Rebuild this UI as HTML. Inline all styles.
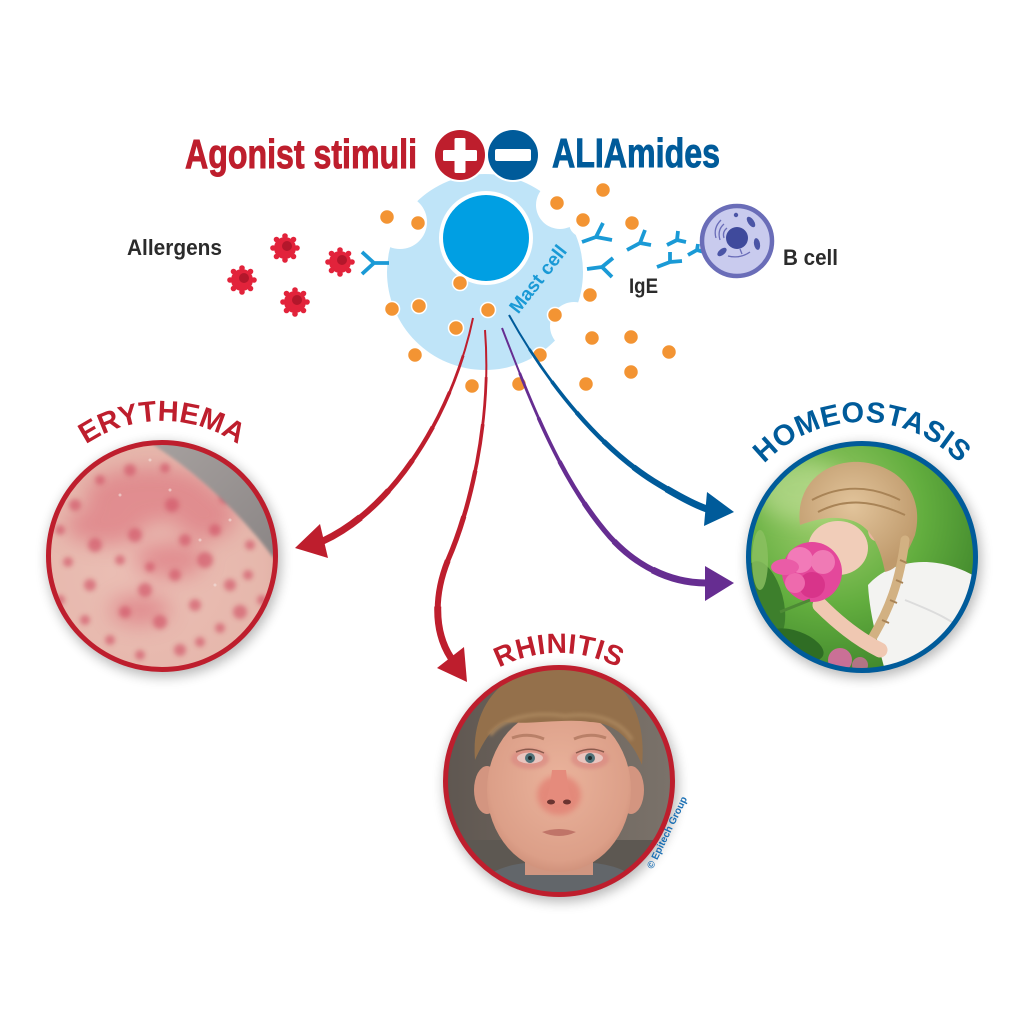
<!DOCTYPE html>
<html><head><meta charset="utf-8"><style>
html,body{margin:0;padding:0;background:#fff;}
svg{display:block;}
text{font-family:"Liberation Sans",Arial,sans-serif;font-weight:bold;}
</style></head><body>
<svg width="1024" height="1024" viewBox="0 0 1024 1024" xmlns="http://www.w3.org/2000/svg">
<defs>
 <filter id="b1" x="-50%" y="-50%" width="200%" height="200%"><feGaussianBlur stdDeviation="1.5"/></filter>
 <filter id="b2" x="-50%" y="-50%" width="200%" height="200%"><feGaussianBlur stdDeviation="2.5"/></filter>
 <filter id="b3" x="-50%" y="-50%" width="200%" height="200%"><feGaussianBlur stdDeviation="3"/></filter>
 <filter id="b6" x="-50%" y="-50%" width="200%" height="200%"><feGaussianBlur stdDeviation="6"/></filter>
 <filter id="b10" x="-50%" y="-50%" width="200%" height="200%"><feGaussianBlur stdDeviation="10"/></filter>
 <clipPath id="c1"><circle cx="162" cy="556" r="113"/></clipPath>
 <clipPath id="c2"><circle cx="559" cy="781" r="113"/></clipPath>
 <clipPath id="c3"><circle cx="862" cy="557" r="113"/></clipPath>
 <radialGradient id="skin1" cx="0.4" cy="0.55" r="0.7">
  <stop offset="0" stop-color="#ebbfb5"/><stop offset="0.7" stop-color="#e6b7ac"/><stop offset="1" stop-color="#d9a59b"/>
 </radialGradient>
 <linearGradient id="gray1" x1="0" y1="0" x2="1" y2="1">
  <stop offset="0" stop-color="#aaa4a2"/><stop offset="1" stop-color="#858080"/>
 </linearGradient>
 <linearGradient id="bg2" x1="0" y1="0" x2="1" y2="0">
  <stop offset="0" stop-color="#5e5650"/><stop offset="0.5" stop-color="#6f665e"/><stop offset="1" stop-color="#7b736b"/>
 </linearGradient>
 <radialGradient id="face2" cx="0.5" cy="0.45" r="0.6">
  <stop offset="0" stop-color="#eab39c"/><stop offset="0.8" stop-color="#dc9f88"/><stop offset="1" stop-color="#c98a74"/>
 </radialGradient>
 <radialGradient id="green3" cx="0.35" cy="0.3" r="0.8">
  <stop offset="0" stop-color="#a3d070"/><stop offset="0.5" stop-color="#62ad3e"/><stop offset="1" stop-color="#357a26"/>
 </radialGradient>
 <radialGradient id="hair3" cx="0.45" cy="0.4" r="0.6">
  <stop offset="0" stop-color="#e2c49b"/><stop offset="1" stop-color="#bf9a6c"/>
 </radialGradient>
 <path id="arc1" d="M27,556 A135,135 0 0 1 297,556"/>
 <path id="arc2" d="M431,781 A128,128 0 0 1 687,781"/>
 <path id="arc3" d="M727,557 A135,135 0 0 1 997,557"/>
</defs>

<rect width="1024" height="1024" fill="#fff"/>

<!-- ===== Title ===== -->
<text x="185" y="168" font-size="41" fill="#be1e2d" stroke="#be1e2d" stroke-width="0.9" textLength="232" lengthAdjust="spacingAndGlyphs">Agonist stimuli</text>
<text x="552" y="167" font-size="41" fill="#005b9a" stroke="#005b9a" stroke-width="0.9" textLength="168" lengthAdjust="spacingAndGlyphs">ALIAmides</text>

<!-- ===== Mast cell ===== -->
<circle cx="485" cy="272" r="98" fill="#bfe4f8"/>
<circle cx="400" cy="222" r="27" fill="#fff"/>
<circle cx="560" cy="205" r="24" fill="#fff"/>
<circle cx="583" cy="223" r="14" fill="#fff"/>
<circle cx="574" cy="326" r="24" fill="#fff"/>
<circle cx="486" cy="238" r="47" fill="#fff"/>
<circle cx="486" cy="238" r="43" fill="#009fe3"/>
<text transform="translate(543,283) rotate(-52)" font-size="19" fill="#1a9ad6" text-anchor="middle">Mast cell</text>

<!-- plus / minus -->
<circle cx="460" cy="155" r="27" fill="#fff"/>
<circle cx="513" cy="155" r="27" fill="#fff"/>
<circle cx="460" cy="155" r="25" fill="#be1e2d"/>
<circle cx="513" cy="155" r="25" fill="#005b9a"/>
<rect x="443" y="150" width="34" height="11" rx="1.5" fill="#fff"/>
<rect x="454.5" y="138" width="11" height="35" rx="1.5" fill="#fff"/>
<rect x="495" y="149" width="36" height="12" rx="2" fill="#fff"/>

<!-- ===== Antibodies ===== -->
<g stroke="#1a9ad6" stroke-width="3.8" fill="none" stroke-linecap="butt" stroke-linejoin="round">
 <path d="M389,263 L374,263 L362,252 M374,263 L362,274"/>
 <path d="M582,242 L596,237 L603,223 M596,237 L612,240"/>
 <path d="M587,269 L602,267 L613,258 M602,267 L612,277"/>
 <path d="M627,250 L640,243 L645,230 M640,243 L651,245"/>
 <path d="M667,245 L677,240 L678,231 M677,240 L686,242"/>
 <path d="M657,267 L670,262 L670,252 M670,262 L682,261"/>
 <path d="M688,255 L697,250 L698,244 M697,250 L704,252"/>
</g>

<!-- ===== B cell ===== -->
<circle cx="737" cy="241" r="35" fill="#c9cbee" stroke="#6a6db8" stroke-width="4.5"/>
<circle cx="737" cy="238" r="11" fill="#3f4a9c"/>
<ellipse cx="751" cy="222" rx="3" ry="6" transform="rotate(-35 751 222)" fill="#4b55a6"/>
<ellipse cx="757" cy="244" rx="3" ry="6" transform="rotate(-10 757 244)" fill="#4b55a6"/>
<ellipse cx="722" cy="252" rx="3" ry="5.5" transform="rotate(50 722 252)" fill="#4b55a6"/>
<circle cx="736" cy="215" r="2.2" fill="#4b55a6"/>
<path d="M716,238 Q713,228 721,220 M720,240 Q717,230 724,224 M724,238 Q722,232 727,228" stroke="#6a6db8" stroke-width="1.3" fill="none"/>
<path d="M728,256 Q740,259 750,252" stroke="#6a6db8" stroke-width="1.3" fill="none"/>
<path d="M740,249 L742,254" stroke="#6a6db8" stroke-width="1.3"/>

<!-- ===== Labels ===== -->
<text x="127" y="255" font-size="22" fill="#2b2b2b" textLength="95" lengthAdjust="spacingAndGlyphs">Allergens</text>
<text x="629" y="293" font-size="21" fill="#2b2b2b" textLength="29" lengthAdjust="spacingAndGlyphs">IgE</text>
<text x="783" y="265" font-size="22" fill="#2b2b2b" textLength="55" lengthAdjust="spacingAndGlyphs">B cell</text>

<!-- ===== Allergens ===== -->
<g transform="translate(285,248)">
 <g fill="#e2233b">
  <circle r="11"/>
  <circle cx="0" cy="-12" r="2.8"/><circle cx="8.5" cy="-8.5" r="2.8"/><circle cx="12" cy="0" r="2.8"/><circle cx="8.5" cy="8.5" r="2.8"/>
  <circle cx="0" cy="12" r="2.8"/><circle cx="-8.5" cy="8.5" r="2.8"/><circle cx="-12" cy="0" r="2.8"/><circle cx="-8.5" cy="-8.5" r="2.8"/>
 </g>
 <circle cx="2" cy="-2" r="5" fill="#b3172b"/>
</g>
<g transform="translate(340,262)">
 <g fill="#e2233b">
  <circle r="11"/>
  <circle cx="0" cy="-12" r="2.8"/><circle cx="8.5" cy="-8.5" r="2.8"/><circle cx="12" cy="0" r="2.8"/><circle cx="8.5" cy="8.5" r="2.8"/>
  <circle cx="0" cy="12" r="2.8"/><circle cx="-8.5" cy="8.5" r="2.8"/><circle cx="-12" cy="0" r="2.8"/><circle cx="-8.5" cy="-8.5" r="2.8"/>
 </g>
 <circle cx="2" cy="-2" r="5" fill="#b3172b"/>
</g>
<g transform="translate(242,280)">
 <g fill="#e2233b">
  <circle r="11"/>
  <circle cx="0" cy="-12" r="2.8"/><circle cx="8.5" cy="-8.5" r="2.8"/><circle cx="12" cy="0" r="2.8"/><circle cx="8.5" cy="8.5" r="2.8"/>
  <circle cx="0" cy="12" r="2.8"/><circle cx="-8.5" cy="8.5" r="2.8"/><circle cx="-12" cy="0" r="2.8"/><circle cx="-8.5" cy="-8.5" r="2.8"/>
 </g>
 <circle cx="2" cy="-2" r="5" fill="#b3172b"/>
</g>
<g transform="translate(295,302)">
 <g fill="#e2233b">
  <circle r="11"/>
  <circle cx="0" cy="-12" r="2.8"/><circle cx="8.5" cy="-8.5" r="2.8"/><circle cx="12" cy="0" r="2.8"/><circle cx="8.5" cy="8.5" r="2.8"/>
  <circle cx="0" cy="12" r="2.8"/><circle cx="-8.5" cy="8.5" r="2.8"/><circle cx="-12" cy="0" r="2.8"/><circle cx="-8.5" cy="-8.5" r="2.8"/>
 </g>
 <circle cx="2" cy="-2" r="5" fill="#b3172b"/>
</g>

<!-- ===== Orange granules ===== -->
<g fill="#f39433" stroke="#fff" stroke-width="1.5">
 <circle cx="387" cy="217" r="7.5"/><circle cx="418" cy="223" r="7.5"/><circle cx="557" cy="203" r="7.5"/>
 <circle cx="583" cy="220" r="7.5"/><circle cx="603" cy="190" r="7.5"/><circle cx="632" cy="223" r="7.5"/>
 <circle cx="590" cy="295" r="7.5"/><circle cx="460" cy="283" r="7.5"/><circle cx="392" cy="309" r="7.5"/>
 <circle cx="419" cy="306" r="7.5"/><circle cx="488" cy="310" r="7.5"/><circle cx="456" cy="328" r="7.5"/>
 <circle cx="555" cy="315" r="7.5"/><circle cx="592" cy="338" r="7.5"/><circle cx="540" cy="355" r="7.5"/>
 <circle cx="415" cy="355" r="7.5"/><circle cx="472" cy="386" r="7.5"/><circle cx="519" cy="384" r="7.5"/>
 <circle cx="586" cy="384" r="7.5"/><circle cx="631" cy="337" r="7.5"/><circle cx="669" cy="352" r="7.5"/>
 <circle cx="631" cy="372" r="7.5"/>
</g>

<!-- ===== Arrows (tapered via layered dashes) ===== -->
<g fill="none" stroke-linecap="butt" stroke="#be1e2d">
 <path d="M473,318 C455,405 400,505 323,541" stroke-width="2"/>
 <path d="M473,318 C455,405 400,505 323,541" pathLength="100" stroke-dasharray="0 14 86 0" stroke-width="2.8"/>
 <path d="M473,318 C455,405 400,505 323,541" pathLength="100" stroke-dasharray="0 28 72 0" stroke-width="3.6"/>
 <path d="M473,318 C455,405 400,505 323,541" pathLength="100" stroke-dasharray="0 42 58 0" stroke-width="4.4"/>
 <path d="M473,318 C455,405 400,505 323,541" pathLength="100" stroke-dasharray="0 56 44 0" stroke-width="5.2"/>
 <path d="M473,318 C455,405 400,505 323,541" pathLength="100" stroke-dasharray="0 70 30 0" stroke-width="6"/>
 <path d="M473,318 C455,405 400,505 323,541" pathLength="100" stroke-dasharray="0 84 16 0" stroke-width="7"/>

 <path d="M485,330 C492,420 470,510 448,560 C432,600 436,635 451,658" stroke-width="2"/>
 <path d="M485,330 C492,420 470,510 448,560 C432,600 436,635 451,658" pathLength="100" stroke-dasharray="0 14 86 0" stroke-width="2.8"/>
 <path d="M485,330 C492,420 470,510 448,560 C432,600 436,635 451,658" pathLength="100" stroke-dasharray="0 28 72 0" stroke-width="3.6"/>
 <path d="M485,330 C492,420 470,510 448,560 C432,600 436,635 451,658" pathLength="100" stroke-dasharray="0 42 58 0" stroke-width="4.4"/>
 <path d="M485,330 C492,420 470,510 448,560 C432,600 436,635 451,658" pathLength="100" stroke-dasharray="0 56 44 0" stroke-width="5.2"/>
 <path d="M485,330 C492,420 470,510 448,560 C432,600 436,635 451,658" pathLength="100" stroke-dasharray="0 70 30 0" stroke-width="6"/>
 <path d="M485,330 C492,420 470,510 448,560 C432,600 436,635 451,658" pathLength="100" stroke-dasharray="0 84 16 0" stroke-width="7"/>
</g>
<g fill="none" stroke-linecap="butt" stroke="#662d91">
 <path d="M502,328 C530,400 560,480 610,537 C640,570 675,583 706,583" stroke-width="2"/>
 <path d="M502,328 C530,400 560,480 610,537 C640,570 675,583 706,583" pathLength="100" stroke-dasharray="0 14 86 0" stroke-width="2.8"/>
 <path d="M502,328 C530,400 560,480 610,537 C640,570 675,583 706,583" pathLength="100" stroke-dasharray="0 28 72 0" stroke-width="3.6"/>
 <path d="M502,328 C530,400 560,480 610,537 C640,570 675,583 706,583" pathLength="100" stroke-dasharray="0 42 58 0" stroke-width="4.4"/>
 <path d="M502,328 C530,400 560,480 610,537 C640,570 675,583 706,583" pathLength="100" stroke-dasharray="0 56 44 0" stroke-width="5.2"/>
 <path d="M502,328 C530,400 560,480 610,537 C640,570 675,583 706,583" pathLength="100" stroke-dasharray="0 70 30 0" stroke-width="6"/>
 <path d="M502,328 C530,400 560,480 610,537 C640,570 675,583 706,583" pathLength="100" stroke-dasharray="0 84 16 0" stroke-width="7"/>
</g>
<g fill="none" stroke-linecap="butt" stroke="#005b9a">
 <path d="M509,315 C545,380 600,450 660,485 C680,497 695,505 707,509" stroke-width="2"/>
 <path d="M509,315 C545,380 600,450 660,485 C680,497 695,505 707,509" pathLength="100" stroke-dasharray="0 14 86 0" stroke-width="2.8"/>
 <path d="M509,315 C545,380 600,450 660,485 C680,497 695,505 707,509" pathLength="100" stroke-dasharray="0 28 72 0" stroke-width="3.6"/>
 <path d="M509,315 C545,380 600,450 660,485 C680,497 695,505 707,509" pathLength="100" stroke-dasharray="0 42 58 0" stroke-width="4.4"/>
 <path d="M509,315 C545,380 600,450 660,485 C680,497 695,505 707,509" pathLength="100" stroke-dasharray="0 56 44 0" stroke-width="5.2"/>
 <path d="M509,315 C545,380 600,450 660,485 C680,497 695,505 707,509" pathLength="100" stroke-dasharray="0 70 30 0" stroke-width="6"/>
 <path d="M509,315 C545,380 600,450 660,485 C680,497 695,505 707,509" pathLength="100" stroke-dasharray="0 84 16 0" stroke-width="7"/>
</g>
<polygon points="295,548 320,524 328,558" fill="#be1e2d"/>
<polygon points="467,682 437,668 464,647" fill="#be1e2d"/>
<polygon points="734,583 705,566 705,601" fill="#662d91"/>
<polygon points="734,512 707,492 704,526" fill="#005b9a"/>

<!-- ===== Shadows for photos ===== -->
<circle cx="164" cy="560" r="117" fill="#000" opacity="0.28" filter="url(#b6)"/>
<circle cx="561" cy="785" r="117" fill="#000" opacity="0.28" filter="url(#b6)"/>
<circle cx="864" cy="561" r="117" fill="#000" opacity="0.28" filter="url(#b6)"/>

<!-- ===== ERYTHEMA photo ===== -->
<g clip-path="url(#c1)">
 <rect x="40" y="430" width="250" height="250" fill="url(#skin1)"/>
 <g fill="#d9606f" opacity="0.5" filter="url(#b10)">
  <ellipse cx="150" cy="495" rx="65" ry="28"/>
  <ellipse cx="105" cy="525" rx="40" ry="20"/>
  <ellipse cx="205" cy="515" rx="30" ry="25"/>
  <ellipse cx="170" cy="560" rx="35" ry="18"/>
  <ellipse cx="140" cy="610" rx="30" ry="15"/>
 </g>
 <g fill="#d25467" opacity="0.65" filter="url(#b2)">
  <circle cx="75" cy="505" r="6"/><circle cx="95" cy="545" r="7"/><circle cx="120" cy="560" r="5"/>
  <circle cx="145" cy="590" r="7"/><circle cx="175" cy="575" r="6"/><circle cx="205" cy="560" r="8"/>
  <circle cx="230" cy="585" r="6"/><circle cx="250" cy="545" r="5"/><circle cx="125" cy="612" r="6"/>
  <circle cx="160" cy="622" r="7"/><circle cx="195" cy="605" r="6"/><circle cx="220" cy="628" r="5"/>
  <circle cx="90" cy="585" r="6"/><circle cx="110" cy="640" r="5"/><circle cx="180" cy="650" r="6"/>
  <circle cx="240" cy="612" r="7"/><circle cx="68" cy="562" r="5"/><circle cx="135" cy="535" r="7"/>
  <circle cx="185" cy="540" r="6"/><circle cx="215" cy="530" r="6"/><circle cx="100" cy="480" r="5"/>
  <circle cx="130" cy="470" r="6"/><circle cx="165" cy="468" r="5"/><circle cx="248" cy="575" r="5"/>
  <circle cx="150" cy="567" r="5"/><circle cx="200" cy="642" r="5"/><circle cx="85" cy="620" r="5"/>
  <circle cx="60" cy="530" r="5"/><circle cx="262" cy="600" r="5"/><circle cx="60" cy="600" r="5"/>
  <circle cx="140" cy="655" r="5"/><circle cx="225" cy="498" r="6"/><circle cx="172" cy="505" r="7"/>
 </g>
 <path d="M140,425 L300,425 L300,580 L272,556 C245,520 205,478 152,444 Z" fill="url(#gray1)" filter="url(#b1)"/>
 <g fill="#f4e4e0" opacity="0.6">
  <circle cx="120" cy="495" r="1.5"/><circle cx="170" cy="490" r="1.5"/><circle cx="200" cy="540" r="1.5"/>
  <circle cx="215" cy="585" r="1.5"/><circle cx="150" cy="460" r="1.5"/><circle cx="230" cy="520" r="1.5"/>
 </g>
</g>
<circle cx="162" cy="556" r="113.5" fill="none" stroke="#be1e2d" stroke-width="5"/>
<text font-size="29" fill="#be1e2d" letter-spacing="0"><textPath href="#arc1" startOffset="50%" text-anchor="middle">ERYTHEMA</textPath></text>

<!-- ===== RHINITIS photo ===== -->
<g clip-path="url(#c2)">
 <rect x="440" y="660" width="240" height="240" fill="url(#bg2)"/>
 <rect x="440" y="840" width="240" height="60" fill="#5d5852"/>
 <path d="M470,900 C480,870 510,860 559,862 C610,860 640,870 650,900 Z" fill="#62666a"/>
 <rect x="525" y="830" width="68" height="45" fill="#d09681"/>
 <ellipse cx="487" cy="790" rx="13" ry="24" fill="#d39580"/>
 <ellipse cx="631" cy="790" rx="13" ry="24" fill="#d39580"/>
 <ellipse cx="559" cy="790" rx="72" ry="82" fill="url(#face2)"/>
 <path d="M475,760 C470,700 510,665 560,665 C612,665 648,700 642,765 C630,735 610,722 590,722 C565,718 530,725 505,722 C490,728 482,745 475,760 Z" fill="#94704b"/>
 <path d="M490,735 C505,715 540,712 565,716 C595,712 620,720 632,740" stroke="#a8845c" stroke-width="4" fill="none" filter="url(#b1)"/>
 <ellipse cx="530" cy="759" rx="19" ry="10" fill="#d98480" opacity="0.6" filter="url(#b1)"/>
 <ellipse cx="590" cy="759" rx="19" ry="10" fill="#d98480" opacity="0.6" filter="url(#b1)"/>
 <ellipse cx="530" cy="758" rx="13" ry="5.5" fill="#e9c5bf"/>
 <ellipse cx="590" cy="758" rx="13" ry="5.5" fill="#e9c5bf"/>
 <circle cx="530" cy="758" r="5" fill="#4f7178"/>
 <circle cx="590" cy="758" r="5" fill="#4f7178"/>
 <circle cx="530" cy="758" r="2" fill="#1f2a2c"/>
 <circle cx="590" cy="758" r="2" fill="#1f2a2c"/>
 <path d="M516,752 Q530,746 544,753 M576,753 Q590,746 604,752" stroke="#8a5a4c" stroke-width="1.5" fill="none"/>
 <path d="M512,738 Q528,732 544,739 M574,739 Q590,732 606,738" stroke="#b98068" stroke-width="3" fill="none"/>
 <ellipse cx="559" cy="795" rx="22" ry="20" fill="#e27a6e" opacity="0.7" filter="url(#b3)"/>
 <path d="M552,770 Q550,790 546,800 Q559,808 572,800 Q568,790 566,770" fill="#e58b7c"/>
 <ellipse cx="551" cy="802" rx="4" ry="2.5" fill="#6a3430"/>
 <ellipse cx="567" cy="802" rx="4" ry="2.5" fill="#6a3430"/>
 <path d="M542,832 Q559,826 576,832 Q559,840 542,832 Z" fill="#c07468"/>
</g>
<circle cx="559" cy="781" r="113.5" fill="none" stroke="#be1e2d" stroke-width="5"/>
<text font-size="28" fill="#be1e2d" letter-spacing="0.6"><textPath href="#arc2" startOffset="50%" text-anchor="middle">RHINITIS</textPath></text>
<text transform="translate(670,834) rotate(-64)" font-size="10" fill="#1a6fb4" text-anchor="middle">© Epitech Group</text>

<!-- ===== HOMEOSTASIS photo ===== -->
<g clip-path="url(#c3)">
 <rect x="745" y="440" width="240" height="240" fill="url(#green3)"/>
 <ellipse cx="800" cy="490" rx="45" ry="30" fill="#c2e09a" opacity="0.6" filter="url(#b10)"/>
 <ellipse cx="765" cy="600" rx="18" ry="40" fill="#3d7f2c" transform="rotate(-15 765 600)"/>
 <ellipse cx="795" cy="645" rx="30" ry="14" fill="#2f6d24" transform="rotate(20 795 645)"/>
 <ellipse cx="760" cy="560" rx="8" ry="30" fill="#8cc062" opacity="0.8"/>
 <path d="M868,585 C890,560 935,552 978,578 L985,690 L890,690 C880,650 870,620 868,585 Z" fill="#f3f3f1"/>
 <path d="M905,600 C930,610 955,620 975,640" stroke="#dcdcdc" stroke-width="2" fill="none"/>
 <ellipse cx="838" cy="548" rx="30" ry="27" fill="#f1cdb9"/>
 <ellipse cx="876" cy="530" rx="8" ry="11" fill="#e8b59f"/>
 <path d="M800,525 C795,485 825,460 860,462 C900,465 925,495 915,535 C905,560 895,570 885,572 C880,545 870,525 850,520 C830,515 815,520 800,525 Z" fill="url(#hair3)"/>
 <path d="M812,500 C840,485 870,485 900,500 M818,512 C845,498 872,500 905,515" stroke="#a88356" stroke-width="2" fill="none"/>
 <path d="M905,540 C900,580 890,610 868,645" stroke="#d2b182" stroke-width="9" fill="none" stroke-linecap="round"/>
 <path d="M900,560 l7,3 M896,580 l7,3 M890,600 l7,3 M882,620 l7,3" stroke="#a88356" stroke-width="2"/>
 <path d="M880,650 C860,640 840,625 820,605" stroke="#f0c8b2" stroke-width="15" fill="none" stroke-linecap="round"/>
 <circle cx="812" cy="572" r="30" fill="#e4489b"/>
 <circle cx="800" cy="560" r="13" fill="#f27ab8"/>
 <circle cx="823" cy="562" r="12" fill="#f07ab5"/>
 <circle cx="812" cy="585" r="13" fill="#d8348a"/>
 <circle cx="795" cy="583" r="10" fill="#ee6aad"/>
 <ellipse cx="785" cy="567" rx="14" ry="8" fill="#ea5ca7"/>
 <circle cx="840" cy="660" r="12" fill="#e06aa8" opacity="0.85"/>
 <circle cx="860" cy="665" r="8" fill="#e06aa8" opacity="0.7"/>
 <path d="M810,600 L780,612" stroke="#4d8a35" stroke-width="3"/>
</g>
<circle cx="862" cy="557" r="113.5" fill="none" stroke="#005b9a" stroke-width="5"/>
<text font-size="29" fill="#005b9a" letter-spacing="0.6"><textPath href="#arc3" startOffset="50%" text-anchor="middle">HOMEOSTASIS</textPath></text>

</svg>
</body></html>
